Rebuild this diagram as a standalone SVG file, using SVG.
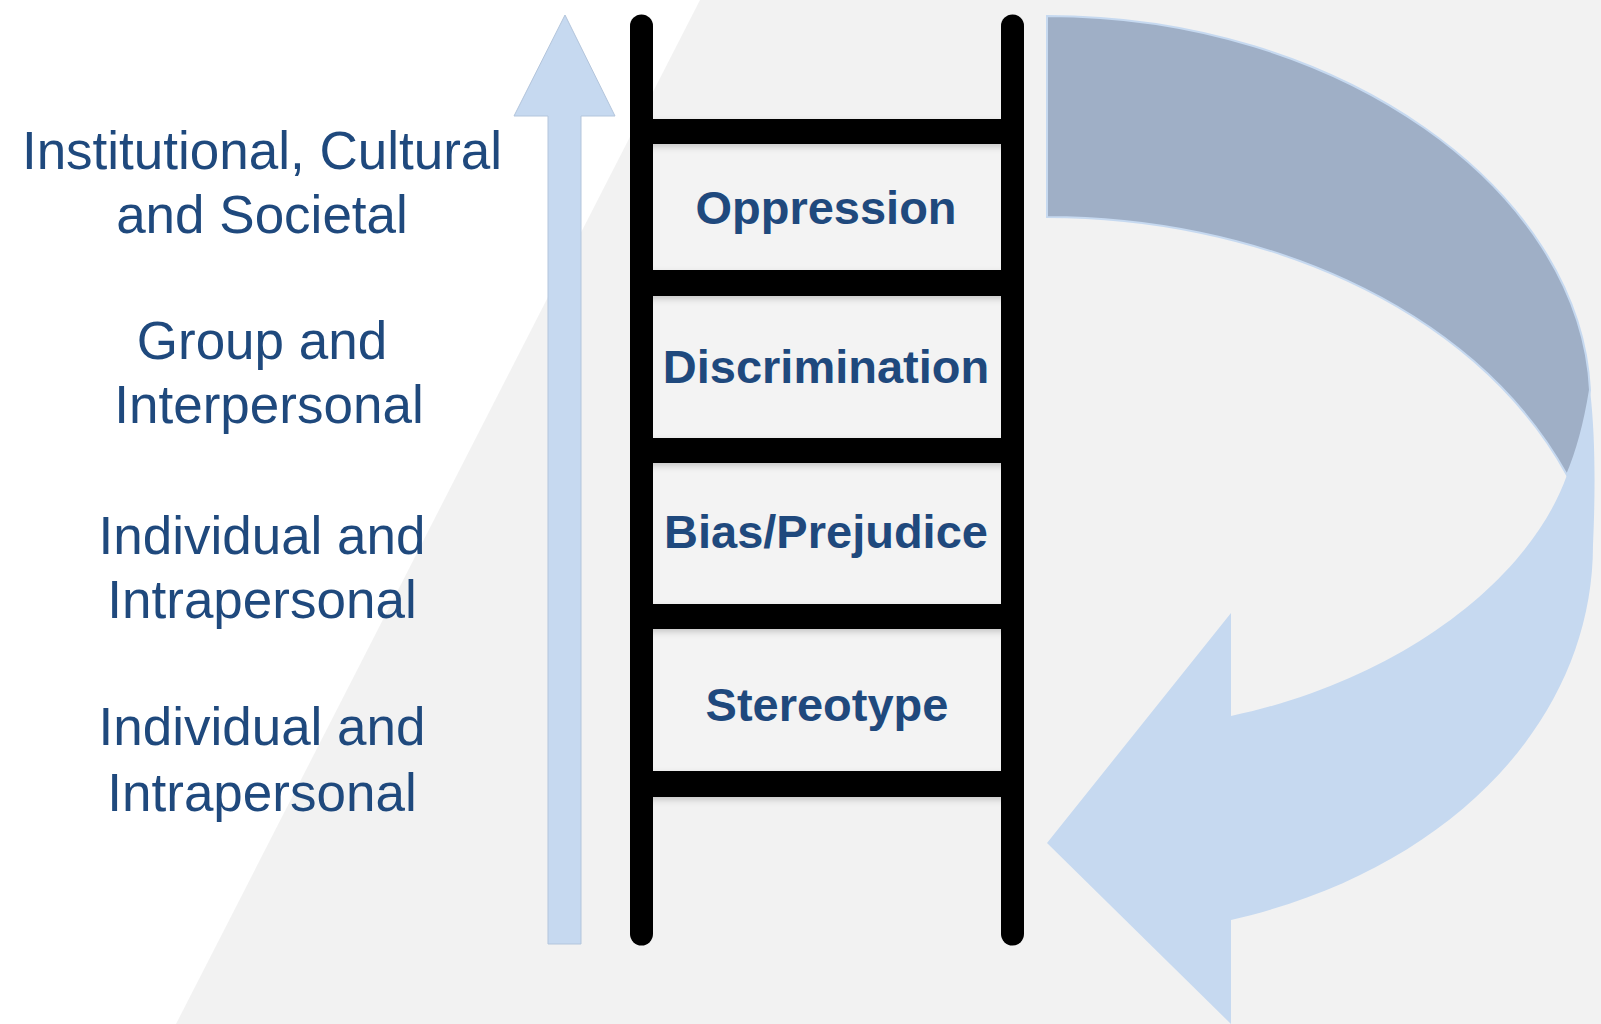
<svg xmlns="http://www.w3.org/2000/svg" width="1601" height="1024" viewBox="0 0 1601 1024">
  <defs>
    <style>
      .lbl { font-family: "Liberation Sans", Arial, sans-serif; font-size: 53px; fill: #1F497D; text-anchor: middle; }
      .box-txt { font-family: "Liberation Sans", Arial, sans-serif; font-size: 47px; font-weight: bold; fill: #1F497D; text-anchor: middle; }
      .rail { stroke: #000; stroke-width: 23; stroke-linecap: round; fill: none; }
      .rung { fill: #000; }
      .box { fill: #f3f3f3; }
      .light { fill: #c6d9f0; }
      .dark { fill: #9fafc6; stroke: #c6d9f0; stroke-width: 2; }
    </style>
    <filter id="shadow" x="-10%" y="-30%" width="120%" height="160%">
      <feDropShadow dx="0" dy="3" stdDeviation="3" flood-color="#000" flood-opacity="0.18"/>
    </filter>
    <linearGradient id="bgfade" x1="0" y1="0" x2="1" y2="0">
      <stop offset="0" stop-color="#f2f2f2"/>
      <stop offset="1" stop-color="#f2f2f2"/>
    </linearGradient>
  </defs>

  <!-- background -->
  <rect x="0" y="0" width="1601" height="1024" fill="#ffffff"/>
  <polygon points="700,0 1601,0 1601,1024 176,1024" fill="url(#bgfade)"/>

  <!-- left level labels -->
  <g id="label-institutional">
    <text class="lbl" x="262" y="169">Institutional, Cultural</text>
    <text class="lbl" x="262" y="233">and Societal</text>
  </g>
  <g id="label-group">
    <text class="lbl" x="262" y="359">Group and</text>
    <text class="lbl" x="269" y="423">Interpersonal</text>
  </g>
  <g id="label-individual-1">
    <text class="lbl" x="262" y="554">Individual and</text>
    <text class="lbl" x="262" y="618">Intrapersonal</text>
  </g>
  <g id="label-individual-2">
    <text class="lbl" x="262" y="745">Individual and</text>
    <text class="lbl" x="262" y="811">Intrapersonal</text>
  </g>

  <!-- arrows -->
  <g id="connectors">
    <path id="up-arrow" class="light" stroke="#b3c5dc" stroke-width="1" d="M548,944 L548,116 L514,116 L565,15 L615,116 L581,116 L581,944 Z"/>
    <g id="curved-arrow">
      <path class="light" d="M1047,16 C1340,16 1580,190 1590,390 C1596,440 1595,500 1593,545 C1593,720 1450,870 1231,920 L1231,1024 L1047,843 L1231,613 L1231,716 C1400,680 1530,580 1567,475 C1470,300 1250,217 1047,217 Z"/>
      <path class="dark" d="M1047,16 C1340,16 1580,190 1590,390 Q1582,440 1567,475 C1470,300 1250,217 1047,217 Z"/>
    </g>
  </g>

  <!-- ladder -->
  <g id="ladder">
    <g id="node-oppression">
      <rect class="box" x="653" y="144" width="348" height="126" filter="url(#shadow)"/>
      <text class="box-txt" x="826" y="224">Oppression</text>
    </g>
    <g id="node-discrimination">
      <rect class="box" x="653" y="296" width="348" height="142" filter="url(#shadow)"/>
      <text class="box-txt" x="826" y="383">Discrimination</text>
    </g>
    <g id="node-bias">
      <rect class="box" x="653" y="463" width="348" height="141" filter="url(#shadow)"/>
      <text class="box-txt" x="826" y="548">Bias/Prejudice</text>
    </g>
    <g id="node-stereotype">
      <rect class="box" x="653" y="629" width="348" height="142" filter="url(#shadow)"/>
      <text class="box-txt" x="827" y="721">Stereotype</text>
    </g>
    <g id="rungs" filter="url(#shadow)">
      <rect class="rung" x="641" y="119" width="372" height="25"/>
      <rect class="rung" x="641" y="270" width="372" height="26"/>
      <rect class="rung" x="641" y="438" width="372" height="25"/>
      <rect class="rung" x="641" y="604" width="372" height="25"/>
      <rect class="rung" x="641" y="771" width="372" height="26"/>
    </g>
    <line class="rail" x1="641.5" y1="26" x2="641.5" y2="934"/>
    <line class="rail" x1="1012.5" y1="26" x2="1012.5" y2="934"/>
  </g>
</svg>
